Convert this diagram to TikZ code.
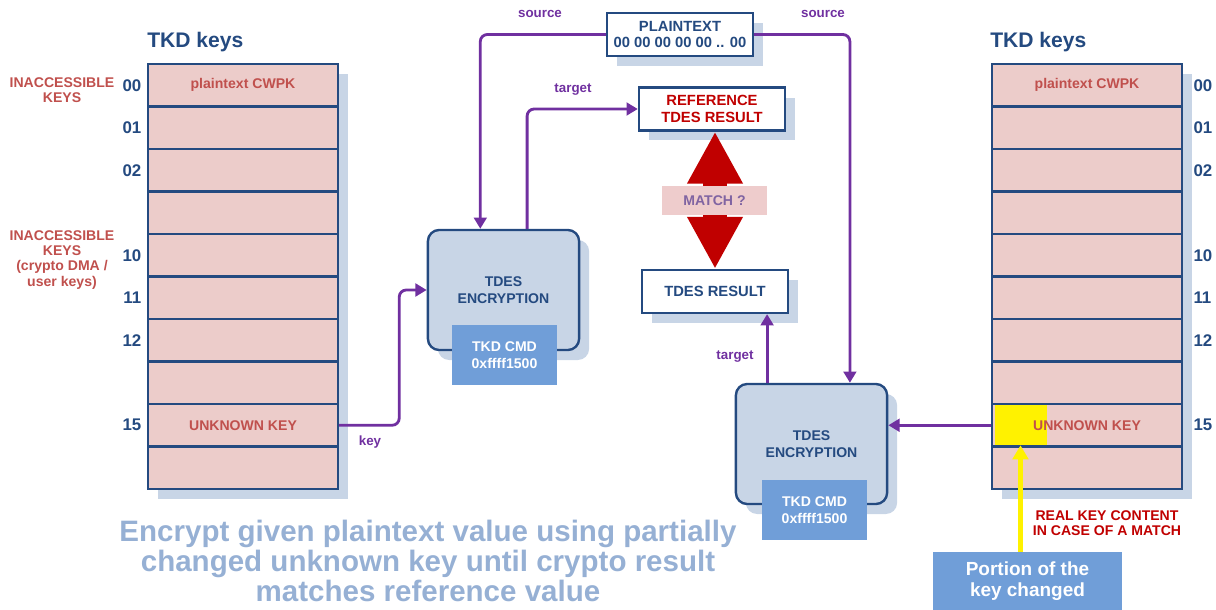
\documentclass[tikz,border=0pt]{standalone}
\usepackage{fontspec}
\setmainfont{Liberation Sans}
\usetikzlibrary{arrows.meta, positioning, shadows}
\definecolor{tkdblue}{RGB}{36,74,128}
\definecolor{shadowblue}{RGB}{200,213,230}
\definecolor{keypink}{RGB}{236,204,202}
\definecolor{keyred}{RGB}{192,80,77}
\definecolor{darkred}{RGB}{192,0,0}
\definecolor{flowpurple}{RGB}{112,48,160}
\definecolor{cmdblue}{RGB}{112,158,216}
\definecolor{matchpink}{RGB}{238,204,204}
\definecolor{matchtext}{RGB}{128,100,162}
\definecolor{notegray}{RGB}{150,176,212}
\tikzstyle{boxshadow} = [drop shadow={shadow xshift=0.25cm, shadow yshift=-0.25cm, fill=shadowblue, opacity=1}]
\tikzstyle{keyrow} = [rectangle, draw=tkdblue, line width=1.7pt, fill=keypink, minimum width=4.75cm, minimum height=1.0625cm, inner sep=0pt, boxshadow]
\tikzstyle{keytext} = [text=keyred, font=\bfseries\fontsize{10}{12}\selectfont]
\tikzstyle{rownum} = [text=tkdblue, font=\bfseries\fontsize{12}{14}\selectfont, inner sep=0pt]
\tikzstyle{tablehead} = [text=tkdblue, font=\bfseries\fontsize{15}{18}\selectfont, inner sep=0pt, anchor=west]
\tikzstyle{result} = [rectangle, draw=tkdblue, line width=1.7pt, fill=white, minimum width=3.65cm, minimum height=1.07cm, align=center, text=tkdblue, font=\bfseries\fontsize{10.5}{12}\selectfont, boxshadow]
\tikzstyle{tdes} = [rectangle, rounded corners=8pt, draw=tkdblue, line width=1.7pt, fill=shadowblue, minimum width=3.78cm, minimum height=3cm, align=center, text=tkdblue, font=\bfseries\fontsize{10}{12}\selectfont, boxshadow]
\tikzstyle{cmd} = [rectangle, fill=cmdblue, text=white, minimum width=2.63cm, minimum height=1.5cm, align=center, font=\bfseries\fontsize{10}{12}\selectfont]
\tikzstyle{matchbox} = [rectangle, fill=matchpink, text=matchtext, minimum width=2.63cm, minimum height=0.73cm, font=\bfseries\fontsize{10}{12}\selectfont]
\tikzstyle{changed} = [rectangle, fill=yellow, minimum width=1.3cm, minimum height=1.0cm, inner sep=0pt]
\tikzstyle{portionbox} = [rectangle, fill=cmdblue, text=white, minimum width=4.73cm, minimum height=1.45cm, align=center, font=\bfseries\fontsize{13.5}{15}\selectfont]
\tikzstyle{arrow} = [line width=2pt, draw=flowpurple, rounded corners=5pt, -{Triangle[length=8pt, width=9pt]}]
\tikzstyle{matcharrow} = [line width=17pt, draw=darkred, {Triangle[length=37pt, width=37pt]}-{Triangle[length=37pt, width=37pt]}]
\tikzstyle{yellowarrow} = [line width=3.5pt, draw=yellow, -{Triangle[length=10pt, width=11pt]}]
\tikzstyle{flowlabel} = [text=flowpurple, font=\bfseries\fontsize{9.5}{11}\selectfont]
\tikzstyle{sidenote} = [text=keyred, align=center, font=\bfseries\fontsize{10}{10.7}\selectfont]
\tikzstyle{caption} = [text=notegray, align=center, font=\bfseries\fontsize{21}{21.3}\selectfont]

\begin{document}
\begin{tikzpicture}[x=0.025cm, y=-0.025cm]
		\useasboundingbox (0,0) rectangle (1216,610);
		% key tables
		\foreach \i in {0,...,9} {
			\node[keyrow] (L\i) at (243,85.25+42.5*\i) {};
			\node[keyrow] (R\i) at (1087,85.25+42.5*\i) {};
		}
		\foreach \i/\num in {0/00,1/01,2/02,4/10,5/11,6/12,8/15} {
			\node[rownum, left=0.13cm of L\i] {\num};
			\node[rownum, right=0.25cm of R\i] {\num};
		}
		\node[keytext] at (L0) {plaintext CWPK};
		\node[keytext] at (L8) {UNKNOWN KEY};
		\node[keytext] at (R0) {plaintext CWPK};
		\node[changed] (chg) at (1020.5,425) {};
		\node[keytext] at (R8) {UNKNOWN KEY};
		\node[tablehead] (headL) at (147,42) {TKD keys};
		\node[tablehead] (headR) at (990,42) {TKD keys};
		\node[sidenote] (inacc1) at (62,90) {INACCESSIBLE\\KEYS};
		\node[sidenote] (inacc2) at (62,260) {INACCESSIBLE\\KEYS\\(crypto DMA /\\user keys)};

		% crypto blocks
		\node[result] (plain) at (680,34.5) {PLAINTEXT\\00 00 00 00 00 .. 00};
		\node[result, text=darkred] (ref) at (712,109) {REFERENCE\\TDES RESULT};
		\node[result] (res) at (715,291.5) {TDES RESULT};
		\node[tdes] (tdesL) at (503.5,290) {TDES\\ENCRYPTION};
		\node[cmd] (cmdL) at (504.5,355) {TKD CMD\\0xffff1500};
		\node[tdes] (tdesR) at (811.5,444) {TDES\\ENCRYPTION};
		\node[cmd] (cmdR) at (814.5,510) {TKD CMD\\0xffff1500};

		\draw[matcharrow] (res.north |- ref.south) -- (res.north);
		\node[matchbox] (match) at (714.5,200.5) {MATCH ?};

		\draw[arrow] (plain.west) -| ([xshift=-0.58cm]tdesL.north);
		\draw[arrow] ([xshift=0.59cm]tdesL.north) |- (ref.west);
		\draw[arrow] (plain.east) -| ([xshift=0.96cm]tdesR.north);
		\draw[arrow] ([xshift=-1.11cm]tdesR.north) -- ([xshift=-1.11cm]tdesR.north |- res.south);
		\draw[arrow] (L8.east) -- ++(60,0) |- (tdesL.west);
		\draw[arrow] (R8.west) -- (R8.west -| tdesR.east);
		\node[flowlabel] at (540,14) {source};
		\node[flowlabel] at (823,14) {source};
		\node[flowlabel] at (573,90) {target};
		\node[flowlabel] at (735,357) {target};
		\node[flowlabel] at (370,442) {key};

		% notes
		\node[portionbox] (portion) at (1027.5,581) {Portion of the\\key changed};
		\draw[yellowarrow] (portion.north -| chg.south) -- (chg.south);
		\node[sidenote, text=darkred] (realkey) at (1107,523.5) {REAL KEY CONTENT\\IN CASE OF A MATCH};
		\node[caption] (goal) at (428,561) {Encrypt given plaintext value using partially\\changed unknown key until crypto result\\matches reference value};
	\end{tikzpicture}
\end{document}
